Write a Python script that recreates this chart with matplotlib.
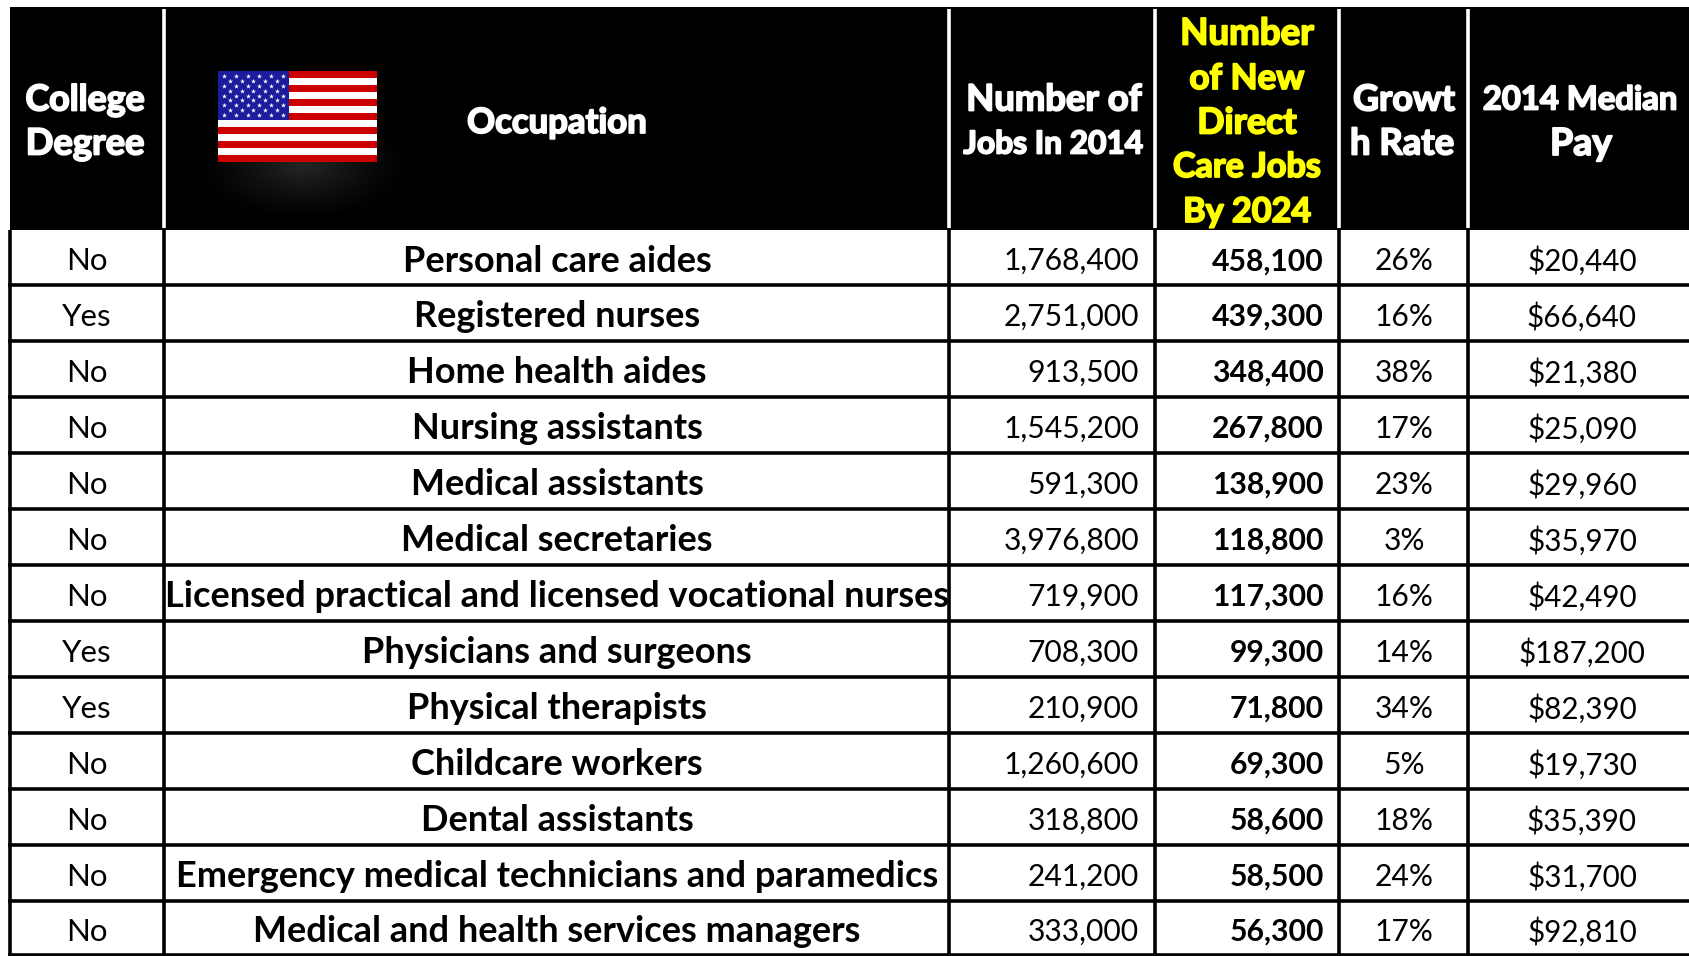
import numpy as np
import matplotlib
matplotlib.use("Agg")
import matplotlib.pyplot as plt
import matplotlib.patheffects as pe
from matplotlib.patches import Rectangle

college = ["No","Yes","No","No","No","No","No","Yes","Yes","No","No","No","No"]
occupation = ["Personal care aides","Registered nurses","Home health aides","Nursing assistants",
              "Medical assistants","Medical secretaries","Licensed practical and licensed vocational nurses",
              "Physicians and surgeons","Physical therapists","Childcare workers","Dental assistants",
              "Emergency medical technicians and paramedics","Medical and health services managers"]
jobs_2014 = [1768400,2751000,913500,1545200,591300,3976800,719900,708300,210900,1260600,318800,241200,333000]
new_jobs = [458100,439300,348400,267800,138900,118800,117300,99300,71800,69300,58600,58500,56300]
growth = [26,16,38,17,23,3,16,14,34,5,18,24,17]
pay = [20440,66640,21380,25090,29960,35970,42490,187200,82390,19730,35390,31700,92810]

col_edges = [10,164,949,1155,1339,1468,1690]
row_edges = [230,285,341,397,453,509,565,621,677,733,789,845,901,955]
head_top = 7

BODY = "Lato"
HEAD = "Lato"

fig = plt.figure(figsize=(16.9,9.56), dpi=100, facecolor="white")
ax = fig.add_axes([0,0,1,1])
ax.set_xlim(0,1690); ax.set_ylim(956,0); ax.axis("off")

# header block
ax.add_patch(Rectangle((col_edges[0],head_top),1690-col_edges[0],row_edges[0]-head_top,fc="black",ec="none",zorder=1))
for x in col_edges[1:-1]:
    ax.plot([x,x],[9,228],color="white",lw=2.6,solid_capstyle="butt",zorder=2)

# grid
for y in row_edges[1:]:
    ax.plot([col_edges[0]-2,1690],[y,y],color="black",lw=2.6,solid_capstyle="butt",zorder=2)
for x in col_edges[:-1]:
    ax.plot([x,x],[row_edges[0],955],color="black",lw=2.6,solid_capstyle="butt",zorder=2)

# glow under flag
gx,gy = np.meshgrid(np.linspace(-1,1,200),np.linspace(-1,1,200))
g = np.clip(1-np.hypot(gx,gy),0,1)**1.3*0.15
ax.imshow(np.dstack([g,g,g]),extent=[195,411,222,108],zorder=2,aspect="auto",interpolation="bilinear")
ax.set_xlim(0,1690); ax.set_ylim(956,0)

# flag
fx0,fx1,fy0,fy1 = 218,377,71,162
sh = (fy1-fy0)/13
for i in range(13):
    ax.add_patch(Rectangle((fx0,fy0+i*sh),fx1-fx0,sh,fc="#cc0000" if i%2==0 else "white",ec="none",zorder=3))
cx1 = 289; cy1 = fy0+7*sh
ax.add_patch(Rectangle((fx0,fy0),cx1-fx0,7*sh,fc="#1c1c9c",ec="none",zorder=4))
sx=[];sy=[]
for r in range(9):
    n = 6 if r%2==0 else 5
    for c in range(n):
        sx.append(fx0+(cx1-fx0)*((c+0.5 if r%2==0 else c+1)/6))
        sy.append(fy0+(cy1-fy0)*((r+1)/10))
ax.scatter(sx,sy,marker="*",s=14,c="white",linewidths=0,zorder=5)

# headers
def head(x,y,s,size,color="white"):
    ax.text(x,y,s,color=color,family=HEAD,weight="bold",fontsize=size,ha="center",va="center",zorder=6,
            path_effects=[pe.withStroke(linewidth=1.3,foreground=color)])
head(85,100,"College",25.8); head(85,144,"Degree",26.2)
head(557,123,"Occupation",25)
head(1054,100,"Number of",26.2); head(1053,144,"Jobs In 2014",22.8)
for y,s,fs in zip([34,79,123,167,212],["Number","of New","Direct","Care Jobs","By 2024"],[26.4,25.2,25.8,24.6,24.6]):
    head(1247,y,s,fs,"#ffff00")
head(1404,100,"Growt",25.8); head(1402,144,"h Rate",26.2)
head(1580,100,"2014 Median",23.6); head(1581,144,"Pay",27)

# rows
for i in range(13):
    y = (row_edges[i]+row_edges[i+1])/2+3.6
    kw = dict(family=BODY,va="center",color="black",zorder=6)
    ax.text(87,y,college[i],ha="center",fontsize=22.5,**kw)
    ax.text(557,y,occupation[i],ha="center",weight="bold",fontsize=26,**kw)
    ax.text(1139,y,f"{jobs_2014[i]:,}",ha="right",fontsize=21.6,**kw)
    ax.text(1324,y,f"{new_jobs[i]:,}",ha="right",weight="bold",fontsize=21.7,**kw)
    ax.text(1404,y,f"{growth[i]}%",ha="center",fontsize=21.6,**kw)
    ax.text(1582,y,f"${pay[i]:,}",ha="center",fontsize=21.3,**kw)

fig.savefig("out.png",dpi=100,facecolor="white")
